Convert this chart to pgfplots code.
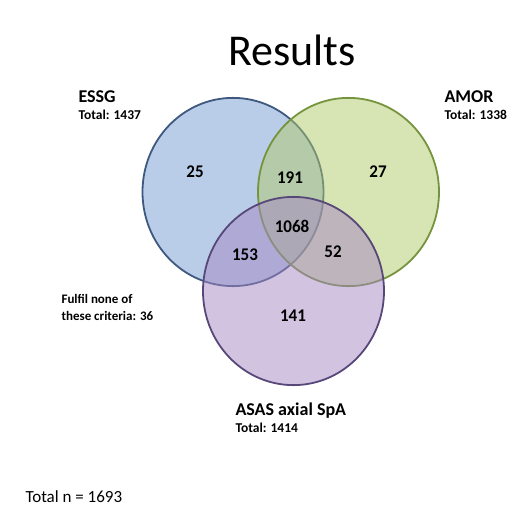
\documentclass[border=0pt]{standalone}
\usepackage{pgfplots}
\pgfplotsset{compat=1.18}
\usepackage{fontspec}
\setmainfont{Carlito}
\definecolor{essgfill}{RGB}{115,155,209}
\definecolor{amorfill}{RGB}{175,201,105}
\definecolor{asasfill}{RGB}{165,135,195}
\definecolor{essgline}{RGB}{62,88,128}
\definecolor{amorline}{RGB}{118,148,62}
\definecolor{asasline}{RGB}{88,72,122}
\definecolor{txt}{RGB}{30,30,30}

\begin{document}
\begin{tikzpicture}
\begin{axis}[
    scale only axis, width=507pt, height=512pt,
    xmin=0, xmax=507, ymin=0, ymax=512, y dir=reverse,
    hide axis, clip=true,
    every node/.append style={inner sep=0pt, text=txt},
]
% set circles (centre of each set, pixel units)
\addplot[only marks, mark=*, mark size=90.5pt,
    mark options={fill=essgfill, fill opacity=0.5, draw=essgline, line width=1.8pt, yscale=1.04}]
    coordinates {(233,192)};
\addplot[only marks, mark=*, mark size=90.5pt,
    mark options={fill=amorfill, fill opacity=0.5, draw=amorline, line width=1.8pt, yscale=1.04}]
    coordinates {(348.5,192)};
\addplot[only marks, mark=*, mark size=90.5pt,
    mark options={fill=asasfill, fill opacity=0.5, draw=asasline, line width=1.8pt, yscale=1.04}]
    coordinates {(293.5,291)};

% region counts
\addplot[only marks, mark=none, point meta=explicit symbolic,
    nodes near coords,
    nodes near coords style={anchor=center, yscale=1.05, font=\fontsize{17}{19}\selectfont\bfseries}]
    coordinates {
    (195,172) [25]
    (290,178) [191]
    (378,172) [27]
    (292,226) [1068]
    (245,255) [153]
    (333,252) [52]
    (293,316) [141]
    };

\node[anchor=base] at (axis cs:292,65) {\fontsize{44}{48}\selectfont Results};
\node[anchor=base west] at (axis cs:75,102) {\fontsize{18}{20}\selectfont\bfseries ESSG};
\node[anchor=base west] at (axis cs:75,119) {\fontsize{13.5}{15}\selectfont\bfseries Total: 1437};
\node[anchor=base west] at (axis cs:441,102) {\fontsize{18}{20}\selectfont\bfseries AMOR};
\node[anchor=base west] at (axis cs:441,119) {\fontsize{13.5}{15}\selectfont\bfseries Total: 1338};
\node[anchor=base west] at (axis cs:58,303) {\fontsize{13}{15}\selectfont\bfseries Fulfil none of};
\node[anchor=base west] at (axis cs:58,320) {\fontsize{13}{15}\selectfont\bfseries these criteria: 36};
\node[anchor=base west] at (axis cs:232,415) {\fontsize{18}{20}\selectfont\bfseries ASAS axial SpA};
\node[anchor=base west] at (axis cs:232,432) {\fontsize{13.5}{15}\selectfont\bfseries Total: 1414};
\node[anchor=base west] at (axis cs:22,502) {\fontsize{17}{19}\selectfont Total n = 1693};
\end{axis}
\pgfresetboundingbox
\path[use as bounding box] (current axis.south west) rectangle (current axis.north east);
\end{tikzpicture}
\end{document}
